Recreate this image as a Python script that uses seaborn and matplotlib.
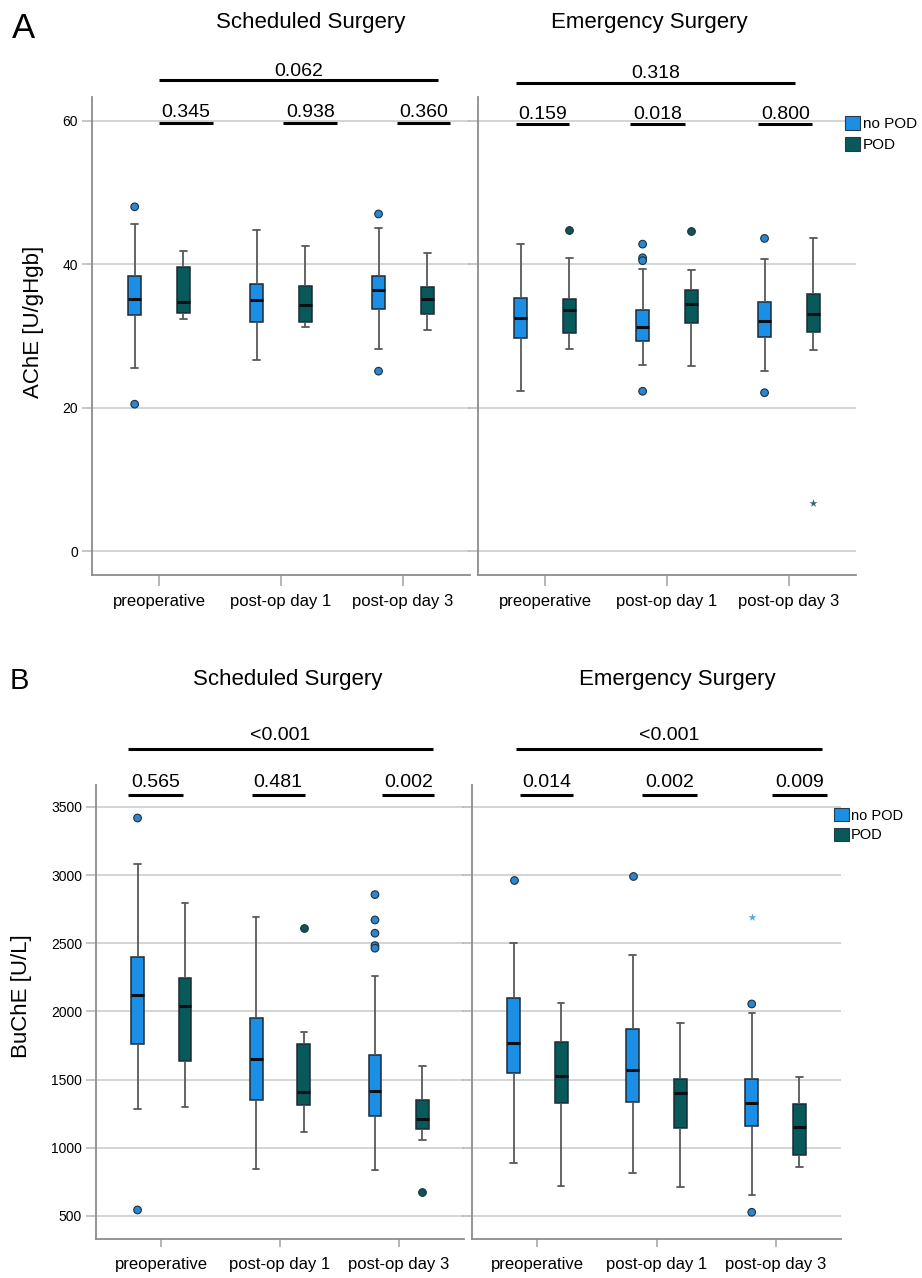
import pandas as pd
import matplotlib
matplotlib.use('Agg')
import matplotlib.pyplot as plt
from matplotlib.patches import Patch
import seaborn as sns

times = ['preoperative', 'post-op day 1', 'post-op day 3']
groups = ['no POD', 'POD']

# five-number summaries per time point: whisker low, Q1, median, Q3, whisker high
ache_sched_nopod = [[25.6, 32.9, 35.1, 38.3, 45.6],
                    [26.6, 32.0, 35.0, 37.3, 44.7],
                    [28.2, 33.7, 36.4, 38.4, 45.0]]
ache_sched_pod = [[32.3, 33.2, 34.7, 39.6, 41.8],
                  [31.3, 32.0, 34.3, 37.0, 42.5],
                  [30.8, 33.1, 35.1, 36.8, 41.6]]
ache_emerg_nopod = [[22.3, 29.7, 32.5, 35.3, 42.8],
                    [26.0, 29.3, 31.2, 33.6, 39.3],
                    [25.1, 29.8, 32.1, 34.8, 40.7]]
ache_emerg_pod = [[28.2, 30.4, 33.6, 35.1, 40.8],
                  [25.8, 31.8, 34.5, 36.4, 39.2],
                  [28.0, 30.5, 33.0, 35.9, 43.7]]

buche_sched_nopod = [[1287, 1759, 2121, 2402, 3080],
                     [843, 1349, 1649, 1950, 2695],
                     [840, 1231, 1417, 1681, 2263]]
buche_sched_pod = [[1302, 1637, 2040, 2246, 2794],
                   [1116, 1314, 1412, 1759, 1852],
                   [1060, 1138, 1212, 1349, 1598]]
buche_emerg_nopod = [[887, 1551, 1771, 2101, 2500],
                     [818, 1336, 1573, 1869, 2417],
                     [654, 1162, 1327, 1505, 1989]]
buche_emerg_pod = [[720, 1331, 1529, 1776, 2062],
                   [713, 1143, 1402, 1505, 1916],
                   [862, 947, 1153, 1322, 1520]]

# outliers (circles) and extreme values (stars): (time, group, value)
ache_sched_out = [('preoperative', 'no POD', 48.0), ('preoperative', 'no POD', 20.5),
                  ('post-op day 3', 'no POD', 47.0), ('post-op day 3', 'no POD', 25.1)]
ache_sched_ext = []
ache_emerg_out = [('post-op day 1', 'no POD', 42.8), ('post-op day 1', 'no POD', 40.9),
                  ('post-op day 1', 'no POD', 40.5), ('post-op day 1', 'no POD', 22.3),
                  ('post-op day 3', 'no POD', 43.6), ('post-op day 3', 'no POD', 22.1),
                  ('preoperative', 'POD', 44.7), ('post-op day 1', 'POD', 44.6)]
ache_emerg_ext = [('post-op day 3', 'POD', 6.7)]

buche_sched_out = [('preoperative', 'no POD', 3419), ('preoperative', 'no POD', 544),
                   ('post-op day 3', 'no POD', 2857), ('post-op day 3', 'no POD', 2671),
                   ('post-op day 3', 'no POD', 2574), ('post-op day 3', 'no POD', 2483),
                   ('post-op day 3', 'no POD', 2464),
                   ('post-op day 1', 'POD', 2615), ('post-op day 3', 'POD', 678)]
buche_sched_ext = []
buche_emerg_out = [('preoperative', 'no POD', 2965), ('post-op day 1', 'no POD', 2996),
                   ('post-op day 3', 'no POD', 2055), ('post-op day 3', 'no POD', 527)]
buche_emerg_ext = [('post-op day 3', 'no POD', 2691)]

# p-values: pairwise per time point, and overall
ache_sched_p = ['0.345', '0.938', '0.360']
ache_sched_p_all = '0.062'
ache_emerg_p = ['0.159', '0.018', '0.800']
ache_emerg_p_all = '0.318'
buche_sched_p = ['0.565', '0.481', '0.002']
buche_sched_p_all = '<0.001'
buche_emerg_p = ['0.014', '0.002', '0.009']
buche_emerg_p_all = '<0.001'

palette = {'no POD': '#1b8fe6', 'POD': '#075a59'}
out_palette = {'no POD': '#2a87cf', 'POD': '#0d5553'}
star_palette = {'no POD': '#52a9e6', 'POD': '#2e6b6b'}

W, H = 922, 1278


def px_axes(x, y, w, h):
    return [x / W, 1 - (y + h) / H, w / W, h / H]


def box_frame(nopod, pod):
    rows = []
    for grp, summary in zip(groups, (nopod, pod)):
        for t, vals in zip(times, summary):
            rows += [(t, grp, v) for v in vals]
    return pd.DataFrame(rows, columns=['time', 'group', 'value'])


def draw_boxes(ax, nopod, pod, outliers, extremes):
    df = box_frame(nopod, pod)
    sns.boxplot(data=df, x='time', y='value', hue='group', order=times,
                hue_order=groups, palette=palette, saturation=1, width=0.8,
                gap=0.73, whis=(0, 100), showfliers=False, linewidth=1.1,
                linecolor='#1c2a36',
                whiskerprops=dict(color='#55595d', linewidth=1.3),
                capprops=dict(color='#55595d', linewidth=1.3),
                medianprops=dict(color='#0a0f14', linewidth=2.2),
                legend=False, ax=ax, zorder=3)
    if outliers:
        sns.stripplot(data=pd.DataFrame(outliers, columns=['time', 'group', 'value']),
                      x='time', y='value', hue='group', order=times,
                      hue_order=groups, palette=out_palette, dodge=True,
                      jitter=False, size=5.5, linewidth=0.8,
                      edgecolor='#1d2f3f', legend=False, ax=ax, zorder=4)
    if extremes:
        sns.stripplot(data=pd.DataFrame(extremes, columns=['time', 'group', 'value']),
                      x='time', y='value', hue='group', order=times,
                      hue_order=groups, palette=star_palette, dodge=True,
                      jitter=False, size=6, marker='*', linewidth=0,
                      legend=False, ax=ax, zorder=4)


def style_axes(ax, ylim, yticks, show_ylabels, xpad, xlen):
    ax.set_xlim(-0.55, 2.55)
    ax.set_ylim(*ylim)
    ax.set_yticks(yticks)
    ax.set_xlabel('')
    ax.set_ylabel('')
    ax.yaxis.grid(True, color='#c9c9c9', linewidth=1.1)
    ax.xaxis.grid(False)
    ax.set_axisbelow(True)
    for side in ['top', 'right']:
        ax.spines[side].set_visible(False)
    for side in ['left', 'bottom']:
        ax.spines[side].set_color('#8c8c8c')
        ax.spines[side].set_linewidth(1.3)
    ax.tick_params(axis='y', left=True, length=7, width=1.1, color='#b5b5b5',
                   labelsize=10, pad=3, labelleft=show_ylabels, labelcolor='black')
    ax.tick_params(axis='x', bottom=True, length=xlen, width=1.1, color='#a0a0a0',
                   labelsize=12, pad=xpad, labelcolor='black')


def brackets(ax, pairs, pvals, y_line, y_text, overall, p_all, y_all, y_all_text):
    for (x0, x1), p in zip(pairs, pvals):
        ax.plot([x0, x1], [y_line, y_line], color='black', linewidth=2.2,
                clip_on=False, solid_capstyle='butt')
        ax.text((x0 + x1) / 2, y_text, p, ha='center', va='baseline',
                fontsize=14, color='black')
    x0, x1 = overall
    ax.plot([x0, x1], [y_all, y_all], color='black', linewidth=2.2,
            clip_on=False, solid_capstyle='butt')
    ax.text((x0 + x1) / 2, y_all_text, p_all, ha='center', va='baseline',
            fontsize=14, color='black')


sns.set_style('white')
plt.rcParams['font.family'] = ['Liberation Sans', 'DejaVu Sans']
plt.rcParams['text.color'] = 'black'

fig = plt.figure(figsize=(W / 100, H / 100), dpi=100)

# ---- panel A: AChE ----
ax1 = fig.add_axes(px_axes(92, 97, 378, 478))
ax2 = fig.add_axes(px_axes(478, 97, 378, 478))
draw_boxes(ax1, ache_sched_nopod, ache_sched_pod, ache_sched_out, ache_sched_ext)
draw_boxes(ax2, ache_emerg_nopod, ache_emerg_pod, ache_emerg_out, ache_emerg_ext)
for ax, lab in [(ax1, True), (ax2, False)]:
    style_axes(ax, (-3.3, 63.3), [0, 20, 40, 60], lab, xpad=6, xlen=8)
brackets(ax1, [(0, 0.44), (1.02, 1.46), (1.95, 2.39)], ache_sched_p, 59.7, 60.5,
         (0, 2.29), ache_sched_p_all, 65.6, 66.2)
brackets(ax2, [(-0.24, 0.2), (0.70, 1.15), (1.75, 2.19)], ache_emerg_p, 59.6, 60.3,
         (-0.24, 2.05), ache_emerg_p_all, 65.3, 66.0)

# ---- panel B: BuChE ----
ax3 = fig.add_axes(px_axes(96, 785, 368, 454))
ax4 = fig.add_axes(px_axes(472, 785, 369, 454))
draw_boxes(ax3, buche_sched_nopod, buche_sched_pod, buche_sched_out, buche_sched_ext)
draw_boxes(ax4, buche_emerg_nopod, buche_emerg_pod, buche_emerg_out, buche_emerg_ext)
for ax, lab in [(ax3, True), (ax4, False)]:
    style_axes(ax, (331, 3661), [500, 1000, 1500, 2000, 2500, 3000, 3500], lab,
               xpad=7, xlen=6)
brackets(ax3, [(-0.28, 0.18), (0.76, 1.21), (1.86, 2.30)], buche_sched_p, 3590, 3647,
         (-0.28, 2.29), buche_sched_p_all, 3925, 3991)
brackets(ax4, [(-0.15, 0.30), (0.88, 1.34), (1.97, 2.43)], buche_emerg_p, 3590, 3647,
         (-0.18, 2.39), buche_emerg_p_all, 3925, 3991)

# ---- titles, labels, legends ----
fig.text(12 / W, 1 - 38 / H, 'A', fontsize=25, ha='left', va='baseline')
fig.text(10 / W, 1 - 689 / H, 'B', fontsize=21, ha='left', va='baseline')
fig.text(311 / W, 1 - 28 / H, 'Scheduled Surgery', fontsize=16, ha='center', va='baseline')
fig.text(649 / W, 1 - 28 / H, 'Emergency Surgery', fontsize=16, ha='center', va='baseline')
fig.text(288 / W, 1 - 685 / H, 'Scheduled Surgery', fontsize=16, ha='center', va='baseline')
fig.text(677 / W, 1 - 685 / H, 'Emergency Surgery', fontsize=16, ha='center', va='baseline')
fig.text(33 / W, 1 - 322 / H, 'AChE [U/gHgb]', fontsize=16, rotation=90,
         ha='center', va='center')
fig.text(22 / W, 1 - 996 / H, 'BuChE [U/L]', fontsize=16, rotation=90,
         ha='center', va='center')

handles = [Patch(facecolor=palette[g], edgecolor='#2a3a48', linewidth=0.8) for g in groups]
for bbox, fs, sp in [((845 / W, 1 - 116 / H), 11, 0.4),
                     ((834 / W, 1 - 808 / H), 10.5, 0.35)]:
    leg = fig.legend(handles, groups, loc='upper left', bbox_to_anchor=bbox,
                     frameon=False, fontsize=fs, handlelength=1.0, handleheight=1.0,
                     handletextpad=0.15, labelspacing=sp, borderpad=0, borderaxespad=0)
    for t in leg.get_texts():
        t.set_color('black')

fig.savefig('out.png', dpi=100)
